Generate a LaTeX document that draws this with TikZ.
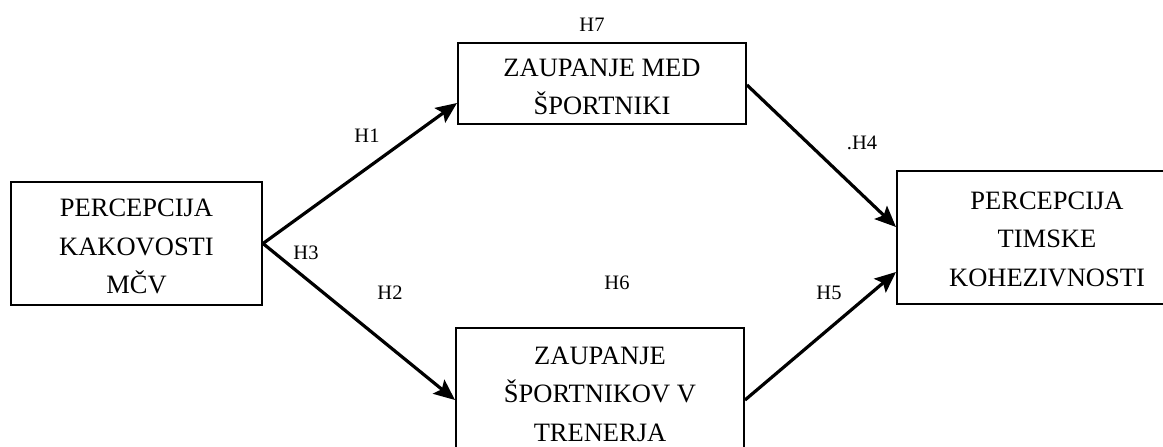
\documentclass[tikz,border=0pt]{standalone}
\usepackage{fontspec}
\setmainfont{Liberation Serif}
\usetikzlibrary{arrows.meta}
\begin{document}
\begin{tikzpicture}[x=1pt,y=-1pt,
  box/.style={draw,line width=2pt,inner sep=0pt},
  txt/.style={align=center,inner sep=0pt,font=\fontsize{26.5}{38.5}\selectfont},
  lab/.style={font=\fontsize{20.5}{24}\selectfont,inner sep=0pt},
  arr/.style={line width=3.2pt,-{Stealth[length=21pt,width=18pt,inset=4pt]}}]
\useasboundingbox (0,0) rectangle (1163,447);
\node[box,minimum width=251pt,minimum height=123pt] (left) at (136.5,243.5) {};
\node[box,minimum width=288pt,minimum height=81pt] (top) at (602,83.5) {};
\node[box,minimum width=288pt,minimum height=128pt] (bot) at (600,392) {};
\node[box,minimum width=300pt,minimum height=133pt] (right) at (1047,237.5) {};
\node[txt] (leftT) at ([yshift=-3pt]left.center) {PERCEPCIJA\\KAKOVOSTI\\MČV};
\node[txt] (topT) at ([yshift=-3.5pt]top.center) {ZAUPANJE MED\\ŠPORTNIKI};
\node[txt] (botT) at ([yshift=-2pt]bot.center) {ZAUPANJE\\ŠPORTNIKOV V\\TRENERJA};
\node[txt] (rightT) at ([yshift=-1.5pt]right.center) {PERCEPCIJA\\TIMSKE\\KOHEZIVNOSTI};
\coordinate (tIn) at ([yshift=-19.5pt]top.west);
\coordinate (bIn) at ([yshift=-8pt]bot.west);
\coordinate (bOut) at ([yshift=-8pt]bot.east);
\coordinate (tOut) at ([yshift=-1.5pt]top.east);
\coordinate (rIn1) at ([yshift=10.5pt]right.west);
\coordinate (rIn2) at ([yshift=-34.5pt]right.west);
\draw[arr] (left.east) -- (tIn);
\draw[arr] (left.east) -- (bIn);
\draw[arr] (tOut) -- (rIn1);
\draw[arr] (bOut) -- (rIn2);
\node[lab] (h7) at (592,25) {H7};
\node[lab] (h1) at (367,136) {H1};
\node[lab] (h3) at (306,253) {H3};
\node[lab] (h2) at (390,293) {H2};
\node[lab] (h6) at (617,283) {H6};
\node[lab] (h5) at (829,293) {H5};
\node[lab] (h4) at (862,143) {.H4};
\end{tikzpicture}
\end{document}
